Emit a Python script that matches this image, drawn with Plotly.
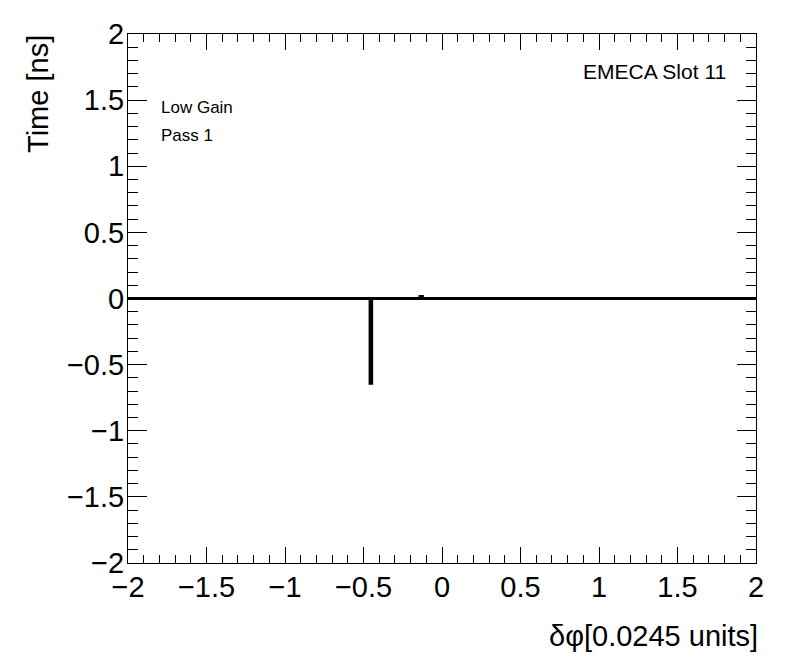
import plotly.graph_objects as go

# Histogram bin edges and contents (profile of time vs delta-phi)
bin_edges = [-2.0, -0.458, -0.448, -0.14, -0.125, 2.0]
bin_values = [0.0, -0.64, 0.0, 0.015, 0.0]

tick_values = [-2, -1.5, -1, -0.5, 0, 0.5, 1, 1.5, 2]
tick_labels = ["\u22122", "\u22121.5", "\u22121", "\u22120.5", "0", "0.5", "1", "1.5", "2"]

x_vals = list(bin_edges)
y_vals = list(bin_values) + [bin_values[-1]]

font_family = "Liberation Sans, Arial, Helvetica, sans-serif"

fig = go.Figure()
fig.add_trace(go.Scatter(
    x=x_vals, y=y_vals, mode="lines", line=dict(color="black", width=3, shape="hv"),
    showlegend=False, hoverinfo="skip"))

def axis_style(major_len, minor_len):
    return dict(
        showgrid=False, zeroline=False, showline=True, linecolor="black", linewidth=1,
        mirror="allticks", ticks="inside", ticklen=major_len, tickwidth=1, tickcolor="black",
        tickmode="array", tickvals=tick_values, ticktext=tick_labels,
        minor=dict(ticks="inside", ticklen=minor_len, dtick=0.1, tick0=0,
                   tickcolor="black", showgrid=False),
        tickfont=dict(family=font_family, size=29, color="black"),
        range=[-2, 2], automargin=False,
    )

fig.update_layout(
    width=788, height=664,
    margin=dict(l=120, r=40, t=26, b=109),
    paper_bgcolor="white", plot_bgcolor="white",
    xaxis=dict(**axis_style(16, 8), tickangle=0, ticklabelstandoff=-2),
    yaxis=dict(**axis_style(19, 10), ticklabelstandoff=-3),
    font=dict(family=font_family, color="black"),
)

fig.add_annotation(text="δφ[0.0245 units]", xref="paper", yref="paper", x=1.006, y=-0.138,
                   xanchor="right", yanchor="middle", showarrow=False,
                   font=dict(family=font_family, size=29, color="black"))
fig.add_annotation(text="Time [ns]", xref="paper", yref="paper", x=-0.143, y=0.887,
                   xanchor="center", yanchor="middle", textangle=-90, showarrow=False,
                   font=dict(family=font_family, size=29, color="black"))
fig.add_annotation(text="EMECA Slot 11", xref="paper", yref="paper", x=0.955, y=0.929,
                   xanchor="right", yanchor="middle", showarrow=False,
                   font=dict(family=font_family, size=21, color="black"))
fig.add_annotation(text="Low Gain", xref="paper", yref="paper", x=0.05, y=0.862,
                   xanchor="left", yanchor="middle", showarrow=False,
                   font=dict(family=font_family, size=17, color="black"))
fig.add_annotation(text="Pass 1", xref="paper", yref="paper", x=0.05, y=0.809,
                   xanchor="left", yanchor="middle", showarrow=False,
                   font=dict(family=font_family, size=17, color="black"))

fig.write_html("out.html")
